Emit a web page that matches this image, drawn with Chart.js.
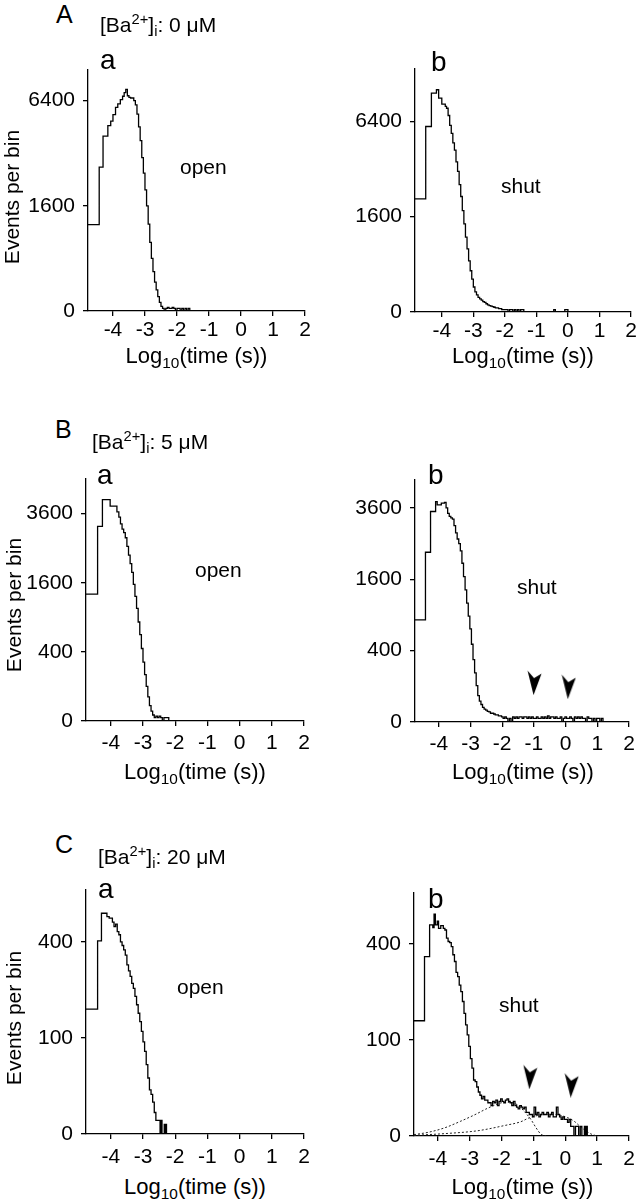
<!DOCTYPE html>
<html>
<head>
<meta charset="utf-8">
<script src="https://cdn.jsdelivr.net/npm/chart.js@4.4.1/dist/chart.umd.min.js"></script>
<style>
  body { margin: 0; background: #fff; width: 638px; height: 1200px; position: relative; overflow: hidden;
         font-family: "Liberation Sans", Arial, Helvetica, sans-serif; color: #000; }
  canvas { position: absolute; }
  .t { position: absolute; white-space: nowrap; line-height: 1; }
  .t sup { font-size: 0.7em; vertical-align: 0.55em; line-height: 0; }
  .t sub { font-size: 0.7em; vertical-align: -0.3em; line-height: 0; }
  .rot { transform: translate(-50%, -50%) rotate(-90deg); }
</style>
</head>
<body>
<script>
// ---- data: log10(time) bin edges and events per bin ----
const xTicks = [-4, -3, -2, -1, 0, 1, 2];
const yTicksA = [0, 1600, 6400];
const yTicksB = [0, 400, 1600, 3600];
const yTicksC = [0, 100, 400];

// A a  (open, 0 uM)
const edgesAa = [-4.78, -4.43, -4.31, -4.16, -4.07, -4.00, -3.92, -3.85, -3.77, -3.70,
  -3.65, -3.60, -3.55, -3.50, -3.45, -3.40, -3.35, -3.30, -3.25, -3.20,
  -3.15, -3.10, -3.05, -3.00, -2.95, -2.90, -2.85, -2.80, -2.75, -2.70,
  -2.65, -2.60, -2.55, -2.50, -2.45, -2.40, -2.35, -2.30, -2.25, -2.20,
  -2.15, -2.10, -2.05, -2.00, -1.95, -1.90, -1.85, -1.80, -1.75, -1.70,
  -1.65, -1.60, -1.55];
const countsAa = [1080, 2990, 4420, 4970, 5210, 5580, 6000, 6200, 6460, 6670,
  6900, 7110, 6700, 6600, 6560, 6560, 6400, 6150, 5600, 4900,
  4200, 3400, 2750, 2120, 1600, 1090, 680, 400, 225, 120,
  64, 30, 11, 3, 1, 0, 1, 2, 1, 1,
  2, 1, 0, 1, 1, 0, 1, 0, 1, 0,
  1, 0];

// A b  (shut, 0 uM)
const edgesAb = [-4.85, -4.51, -4.33, -4.17, -4.10, -4.00, -3.89,
  -3.85, -3.80, -3.75, -3.70, -3.65, -3.60, -3.55, -3.50, -3.45, -3.40,
  -3.35, -3.30, -3.25, -3.20, -3.15, -3.10, -3.05, -3.00, -2.95, -2.90,
  -2.85, -2.80, -2.75, -2.70, -2.65, -2.60, -2.55, -2.50, -2.45, -2.40,
  -2.35, -2.30, -2.25, -2.20, -2.15, -2.10, -2.05, -2.00, -1.95, -1.90,
  -1.85, -1.80, -1.75, -1.70, -1.65, -1.60, -1.55, -1.50, -1.45,
  -1.40, -0.45, -0.40, -0.10, -0.05, 0.00];
const countsAb = [2250, 6060, 8440, 8700, 8060, 7610, 7440,
  7310, 6800, 6130, 5620, 5040, 4620, 3970, 3480, 2860, 2350,
  1810, 1370, 990, 700, 460, 300, 190, 110, 72, 52,
  38, 30, 25, 19, 16, 12, 9, 7, 6, 5,
  4, 3, 3, 2, 2, 1, 1, 1, 1, 0,
  1, 1, 0, 1, 0, 1, 0, 1, 1,
  0, 1, 0, 1, 1];

// B a  (open, 5 uM)
const edgesBa = [-4.77, -4.41, -4.26, -4.02, -3.81, -3.75, -3.70, -3.65, -3.60, -3.55,
  -3.50, -3.45, -3.40, -3.35, -3.30, -3.25, -3.20, -3.15, -3.10, -3.05,
  -3.00, -2.95, -2.90, -2.85, -2.80, -2.75, -2.70, -2.65, -2.60, -2.55,
  -2.50, -2.45, -2.40, -2.35, -2.30, -2.25, -2.20];
const countsBa = [1348, 3170, 4100, 3860, 3660, 3480, 3250, 3080, 2970, 2810,
  2550, 2300, 2070, 1850, 1560, 1300, 1060, 820, 625, 440,
  290, 180, 100, 49, 20, 8, 3, 1, 2, 1,
  2, 1, 0, 1, 1, 1];

// B b  (shut, 5 uM)
const edgesBb = [-4.75, -4.42, -4.26, -4.10, -4.05, -3.92, -3.82,
  -3.77, -3.72, -3.67, -3.62, -3.57, -3.52, -3.47, -3.42, -3.37, -3.32,
  -3.27, -3.22, -3.17, -3.12, -3.07, -3.02, -2.97, -2.92, -2.87, -2.82,
  -2.77, -2.72, -2.67, -2.62, -2.57, -2.52, -2.47, -2.42, -2.37, -2.32,
  -2.27, -2.22, -2.17, -2.12, -2.07, -2.02, -1.97, -1.92, -1.87, -1.82,
  -1.77, -1.72, -1.67, -1.62, -1.57, -1.52, -1.47, -1.42, -1.37, -1.32,
  -1.27, -1.22, -1.17, -1.12, -1.07, -1.02, -0.97, -0.92, -0.87, -0.82,
  -0.77, -0.72, -0.67, -0.62, -0.57, -0.52, -0.47, -0.42, -0.37, -0.32,
  -0.27, -0.22, -0.17, -0.12, -0.07, -0.02, 0.03, 0.08, 0.13, 0.18,
  0.23, 0.28, 0.33, 0.38, 0.43, 0.48, 0.53, 0.58, 0.63, 0.68,
  0.73, 0.78, 0.83, 0.88, 0.93, 0.98, 1.03, 1.08, 1.13, 1.18];
const countsBb = [818, 2263, 3480, 3816, 3700, 3760, 3790,
  3600, 3420, 3320, 3270, 3230, 3030, 2810, 2630, 2500, 2300,
  1980, 1660, 1370, 1110, 880, 680, 475, 306, 190, 104,
  55, 34, 24, 17, 13, 11, 9, 8, 6, 6,
  5, 4, 4, 3, 3, 2, 1, 2, 1, 0,
  1, 0, 2, 1, 2, 1, 2, 2, 1, 2,
  2, 1, 2, 1, 2, 1, 1, 2, 1, 1,
  2, 1, 2, 1, 3, 1, 2, 2, 1, 2,
  1, 1, 2, 0, 1, 2, 1, 1, 2, 1,
  0, 2, 1, 2, 1, 2, 1, 1, 0, 2,
  1, 1, 0, 1, 0, 1, 1, 0, 1];
const arrowsBbX = [-0.98, 0.1];
const arrowsBbY = [122, 98];

// C a  (open, 20 uM)
const edgesCa = [-4.77, -4.41, -4.29, -4.12, -4.05,
  -3.95, -3.90, -3.85, -3.80, -3.75, -3.70, -3.65, -3.60, -3.55, -3.50,
  -3.45, -3.40, -3.35, -3.30, -3.25, -3.20, -3.15, -3.10, -3.05, -3.00,
  -2.95, -2.90, -2.85, -2.80, -2.75, -2.70, -2.65, -2.60, -2.55, -2.50,
  -2.47, -2.46, -2.45, -2.44, -2.43, -2.42, -2.41, -2.40,
  -2.34, -2.33, -2.32, -2.31, -2.30, -2.29, -2.28, -2.27, -2.26];
const countsCa = [169, 404, 528, 512, 505,
  486, 466, 477, 444, 430, 400, 385, 367, 347, 310,
  288, 269, 246, 230, 205, 181, 158, 137, 114, 92,
  74, 52, 34, 21, 17, 11, 5, 2, 2, 2,
  0, 2, 0, 2, 0, 2, 0, 0,
  1, 0, 1, 0, 1, 0, 1, 0];

// C b  (shut, 20 uM)
const edgesCb = [-4.75, -4.42, -4.26, -4.16, -4.12, -4.08, -4.02, -3.98, -3.91, -3.83,
  -3.78, -3.73, -3.68, -3.63, -3.58, -3.53, -3.48, -3.43, -3.38, -3.33,
  -3.28, -3.23, -3.18, -3.13, -3.08, -3.03, -2.98, -2.93, -2.88, -2.83,
  -2.78, -2.73, -2.68, -2.63, -2.58, -2.53, -2.48, -2.43, -2.38, -2.33,
  -2.28, -2.23, -2.18, -2.13, -2.08, -2.03, -1.98, -1.93, -1.88, -1.83,
  -1.78, -1.73, -1.68, -1.63, -1.58, -1.53, -1.48, -1.43, -1.38, -1.33,
  -1.28, -1.23, -1.18, -1.13, -1.08, -1.03, -0.98, -0.93, -0.88, -0.83,
  -0.78, -0.73, -0.68, -0.63, -0.58, -0.53, -0.48, -0.43, -0.38, -0.33,
  -0.28, -0.23, -0.18, -0.13, -0.08, -0.03, 0.02, 0.07, 0.12, 0.17,
  0.22, 0.27, 0.32, 0.37, 0.42, 0.47, 0.52, 0.57,
  0.60, 0.61, 0.62, 0.63, 0.64, 0.65, 0.66, 0.67, 0.68, 0.69];
const countsCb = [144, 349, 483, 471, 533, 483, 500, 467, 480, 467,
  460, 424, 410, 405, 389, 356, 330, 290, 275, 247,
  226, 196, 163, 134, 111, 87, 65, 50, 34, 32,
  26, 21, 18, 15, 17, 14, 14, 12, 12, 10,
  13, 12, 14, 10, 13, 15, 13, 12, 14, 15,
  13, 12, 10, 13, 10, 9, 8, 10, 9, 8,
  9, 6, 6, 5, 5, 4, 9, 5, 6, 4,
  5, 6, 5, 5, 6, 4, 5, 6, 4, 4,
  9, 5, 4, 3, 4, 3, 3, 2, 3, 1,
  1, 0, 1, 1, 0, 1, 0, 0,
  1, 0, 1, 0, 1, 0, 1, 0, 1];
// fitted components (dotted)
const fit1X = [-4.75, -4.3, -3.8, -3.3, -2.8, -2.5, -2.25, -2.0, -1.75, -1.5, -1.28, -1.07, -0.92, -0.76, -0.6];
const fit1Y = [0.02, 0.15, 0.7, 2.3, 5.2, 7.8, 10, 12, 12.3, 10.5, 6.4, 2.8, 0.75, 0.03, 0];
const fit2X = [-4.75, -3.8, -2.75, -1.9, -1.4, -1.13, -0.85, -0.5, -0.2, 0.1, 0.3, 0.5, 0.8, 1.0];
const fit2Y = [0.005, 0.06, 0.3, 1.2, 2.2, 3.6, 4.6, 5.1, 4.8, 3.5, 2.2, 0.8, 0.05, 0];
const arrowsCbX = [-1.1, 0.2];
const arrowsCbY = [38, 28];

// ---- square-root y scale ----
const BaseLinear = Chart.LinearScale || Chart.registry.getScale('linear');
class SqrtScale extends BaseLinear {
  configure() {
    super.configure();
    this._sMin = Math.sqrt(Math.max(this.min, 0));
    this._sRange = Math.sqrt(this.max) - this._sMin;
  }
  getPixelForValue(value) {
    if (value === null || value === undefined || isNaN(value)) return NaN;
    return this.getPixelForDecimal((Math.sqrt(Math.max(value, 0)) - this._sMin) / this._sRange);
  }
  getValueForPixel(pixel) {
    const s = this._sMin + this.getDecimalForPixel(pixel) * this._sRange;
    return s * s;
  }
}
SqrtScale.id = 'sqrt';
SqrtScale.defaults = BaseLinear.defaults;
Chart.register(SqrtScale);

const FONT = '"Liberation Sans", Arial, Helvetica, sans-serif';
Chart.defaults.font.family = FONT;
Chart.defaults.font.size = 21;
Chart.defaults.color = '#000';

// arrowhead marker
const arrow = document.createElement('canvas');
arrow.width = 15; arrow.height = 25;
(function () {
  const c = arrow.getContext('2d');
  c.fillStyle = '#000';
  c.beginPath();
  c.moveTo(6.5, 25);
  c.lineTo(0.5, 0.5);
  c.lineTo(7, 8);
  c.lineTo(14.5, 3.5);
  c.closePath();
  c.fill();
})();

function histPoints(edges, counts) {
  const pts = counts.map((c, i) => ({ x: edges[i], y: c }));
  const end = edges[counts.length];
  pts.push({ x: end, y: counts[counts.length - 1] });
  pts.push({ x: end, y: 0 });
  return pts;
}
function xy(xs, ys) { return xs.map((x, i) => ({ x: x, y: ys[i] })); }

function histSet(edges, counts) {
  // 'before': horizontal at the previous value, then vertical at the next edge
  return { data: histPoints(edges, counts), stepped: 'before', borderColor: '#000',
           borderWidth: 1.3, pointRadius: 0, fill: false };
}
function fitSet(xs, ys) {
  return { data: xy(xs, ys), borderColor: '#222', borderWidth: 1, borderDash: [2, 2],
           pointRadius: 0, fill: false, cubicInterpolationMode: 'monotone' };
}
function arrowSet(xs, ys) {
  return { type: 'scatter', data: xy(xs, ys), pointStyle: arrow, pointRadius: 8,
           showLine: false, borderColor: '#000', backgroundColor: '#000' };
}

function makeChart(p) {
  const cv = document.createElement('canvas');
  cv.width = p.w; cv.height = p.h;
  cv.style.left = p.left + 'px'; cv.style.top = p.top + 'px';
  cv.style.width = p.w + 'px'; cv.style.height = p.h + 'px';
  document.body.appendChild(cv);
  const axisLine = { display: true, color: '#000', width: 1.3 };
  const tickMarks = { drawOnChartArea: false, drawTicks: true, tickLength: 5, color: '#000', lineWidth: 1.3 };
  const noPad = s => { s.paddingTop = 0; s.paddingBottom = 0; s.paddingLeft = 0; s.paddingRight = 0; };
  new Chart(cv, {
    type: 'line',
    data: { datasets: p.datasets },
    options: {
      responsive: false, animation: false, devicePixelRatio: 1,
      layout: { padding: { top: 10, right: p.padRight, left: 0, bottom: 0 } },
      plugins: { legend: { display: false }, tooltip: { enabled: false } },
      scales: {
        x: {
          type: 'linear', min: p.xMin, max: 2,
          afterBuildTicks: s => { s.ticks = xTicks.map(v => ({ value: v })); },
          afterFit: s => { s.height = 40; noPad(s); },
          grid: tickMarks, border: axisLine,
          ticks: { font: { family: FONT, size: 21 }, padding: p.xPad, autoSkip: false, maxRotation: 0,
                   callback: v => String(v) }
        },
        y: {
          type: 'sqrt', min: 0, max: p.yMax,
          afterBuildTicks: s => { s.ticks = p.yTicks.map(v => ({ value: v })); },
          afterFit: s => { s.width = p.yWidth; noPad(s); },
          grid: tickMarks, border: axisLine,
          ticks: { font: { family: FONT, size: 21 }, padding: 8, callback: v => String(v) }
        }
      }
    }
  });
}

function txt(html, x, base, fs, center) {
  const d = document.createElement('div');
  d.className = 't';
  d.innerHTML = html;
  d.style.fontSize = fs + 'px';
  d.style.left = x + 'px';
  d.style.top = (base - 0.8465 * fs) + 'px';
  if (center) d.style.transform = 'translateX(-50%)';
  document.body.appendChild(d);
}
function vtxt(text, cx, cy, fs) {
  const d = document.createElement('div');
  d.className = 't rot';
  d.textContent = text;
  d.style.fontSize = fs + 'px';
  d.style.left = cx + 'px';
  d.style.top = cy + 'px';
  document.body.appendChild(d);
}

const panels = [
  { left: 0, top: 60, w: 320, h: 291, padRight: 15, yWidth: 88, xMin: -4.78, yMax: 8400, yTicks: yTicksA,
    xPad: 2, datasets: [histSet(edgesAa, countsAa)] },
  { left: 320, top: 59, w: 318, h: 293, padRight: 7, yWidth: 95, xMin: -4.85, yMax: 10400, yTicks: yTicksA,
    xPad: 2, datasets: [histSet(edgesAb, countsAb)] },
  { left: 0, top: 469, w: 320, h: 292, padRight: 16, yWidth: 86, xMin: -4.77, yMax: 4900, yTicks: yTicksB,
    xPad: 5, datasets: [histSet(edgesBa, countsBa)] },
  { left: 320, top: 470, w: 318, h: 292, padRight: 7, yWidth: 95, xMin: -4.75, yMax: 4600, yTicks: yTicksB,
    xPad: 5, datasets: [arrowSet(arrowsBbX, arrowsBbY), histSet(edgesBb, countsBb)] },
  { left: 0, top: 880, w: 320, h: 294, padRight: 16, yWidth: 86, xMin: -4.77, yMax: 645, yTicks: yTicksC,
    xPad: 6, datasets: [histSet(edgesCa, countsCa)] },
  { left: 320, top: 883, w: 318, h: 293, padRight: 7, yWidth: 94, xMin: -4.75, yMax: 640, yTicks: yTicksC,
    xPad: 6, datasets: [arrowSet(arrowsCbX, arrowsCbY), histSet(edgesCb, countsCb),
                        fitSet(fit1X, fit1Y), fitSet(fit2X, fit2Y)] }
];
panels.forEach(makeChart);

const xTitle = 'Log<sub>10</sub>(time (s))';
const ba = c => '[Ba<sup>2+</sup>]<sub>i</sub>: ' + c + ' μM';

txt('A', 56, 23, 25);
txt(ba('0'), 100, 31.7, 21);
txt('a', 100, 70, 28);
txt('b', 431, 71.7, 28);
txt('open', 180, 174, 21);
txt('shut', 501, 192.7, 21);
vtxt('Events per bin', 11, 197, 21);
txt(xTitle, 196.5, 364, 22, true);
txt(xTitle, 523, 364, 22, true);

txt('B', 55, 438, 25);
txt(ba('5'), 92, 448.3, 21);
txt('a', 97, 485, 28);
txt('b', 428, 485, 28);
txt('open', 195, 576.7, 21);
txt('shut', 517, 593.3, 21);
vtxt('Events per bin', 13, 605, 21);
txt(xTitle, 195, 780, 22, true);
txt(xTitle, 523, 780, 22, true);

txt('C', 55, 853.3, 25);
txt(ba('20'), 98, 863.3, 21);
txt('a', 98, 898.3, 28);
txt('b', 428, 908.3, 28);
txt('open', 177, 993.3, 21);
txt('shut', 499, 1011.7, 21);
vtxt('Events per bin', 13, 1018, 21);
txt(xTitle, 195, 1195, 22, true);
txt(xTitle, 522.5, 1195, 22, true);
</script>
</body>
</html>
